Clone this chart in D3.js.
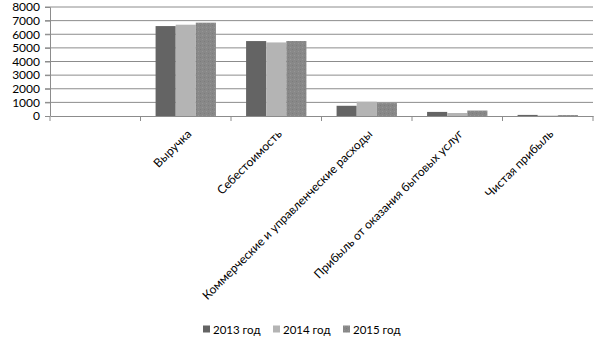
<!DOCTYPE html>
<html>
<head>
<meta charset="utf-8">
<script src="https://cdn.jsdelivr.net/npm/d3@7"></script>
<style>
  body { margin: 0; background: #fff; }
  text { font-family: Lato, "Liberation Sans", sans-serif; fill: #000; }
</style>
</head>
<body>
<div id="wrapper"></div>
<script>
// data
const categories = ["", "Выручка", "Себестоимость", "Коммерческие и управленческие расходы",
  "Прибыль от оказания бытовых услуг", "Чистая прибыль"];
const seriesNames = ["2013 год", "2014 год", "2015 год"];
const values2013 = [null, 6600, 5500, 750, 300, 80];
const values2014 = [null, 6700, 5400, 1050, 220, 30];
const values2015 = [null, 6850, 5500, 950, 400, 70];
const yTicks = [0, 1000, 2000, 3000, 4000, 5000, 6000, 7000, 8000];

const allSeries = [values2013, values2014, values2015];
const colors = ["#646464", "#b4b4b4", "url(#dots)"];

let dimensions = {
  width: 605,
  height: 340,
  margin: { top: 7, right: 12, bottom: 224, left: 50 }
}
dimensions.boundedWidth = dimensions.width - dimensions.margin.left - dimensions.margin.right
dimensions.boundedHeight = dimensions.height - dimensions.margin.top - dimensions.margin.bottom

const wrapper = d3.select("#wrapper").append("svg")
  .attr("width", dimensions.width)
  .attr("height", dimensions.height);

// dotted fill for 2015
const pat = wrapper.append("defs").append("pattern")
  .attr("id", "dots").attr("patternUnits", "userSpaceOnUse")
  .attr("width", 4).attr("height", 4);
pat.append("rect").attr("width", 4).attr("height", 4).attr("fill", "#888888");
pat.append("rect").attr("x", 0).attr("y", 0).attr("width", 1).attr("height", 1).attr("fill", "#969696");
pat.append("rect").attr("x", 2).attr("y", 2).attr("width", 1).attr("height", 1).attr("fill", "#7c7c7c");

const bounds = wrapper.append("g")
  .attr("transform", `translate(${dimensions.margin.left},${dimensions.margin.top})`);

const yScale = d3.scaleLinear()
  .domain([0, 8000])
  .range([dimensions.boundedHeight, 0]);

const xScale = d3.scaleBand()
  .domain(d3.range(categories.length))
  .range([0, dimensions.boundedWidth])
  .paddingInner(0).paddingOuter(0);

const inner = d3.scaleBand()
  .domain(d3.range(allSeries.length))
  .range([0, xScale.bandwidth()])
  .paddingOuter(0.75).paddingInner(0);

// gridlines
bounds.append("g")
  .selectAll("line")
  .data(yTicks.filter(d => d > 0))
  .join("line")
  .attr("x1", -5).attr("x2", dimensions.boundedWidth)
  .attr("y1", d => yScale(d)).attr("y2", d => yScale(d))
  .attr("stroke", "#8c8c8c").attr("stroke-width", 1);

// bars
allSeries.forEach((vals, si) => {
  bounds.append("g")
    .selectAll("rect")
    .data(vals.map((v, i) => ({ v, i })).filter(d => d.v != null))
    .join("rect")
    .attr("x", d => xScale(d.i) + inner(si))
    .attr("width", inner.bandwidth())
    .attr("y", d => yScale(d.v))
    .attr("height", d => dimensions.boundedHeight - yScale(d.v))
    .attr("fill", colors[si]);
});

// y axis
const yAxis = bounds.append("g")
  .call(d3.axisLeft(yScale).tickValues(yTicks).tickSize(5).tickPadding(5).tickFormat(d3.format("d")));
yAxis.selectAll("line, path").attr("stroke", "#8c8c8c");
yAxis.select(".domain").attr("d", `M-5,0.5H0.5V${dimensions.boundedHeight}`);
yAxis.selectAll("text").style("font-size", "12px").attr("fill", "#000");

// x axis
const xAxis = bounds.append("g")
  .attr("transform", `translate(0,${dimensions.boundedHeight})`)
  .call(d3.axisBottom(xScale).tickSize(0).tickFormat(i => categories[i]));
xAxis.select(".domain").attr("stroke", "#8c8c8c");
xAxis.selectAll("text")
  .style("font-size", "12px")
  .attr("text-anchor", "end")
  .attr("transform", "translate(0,9) rotate(-45)")
  .attr("dy", "0.7em").attr("dx", "-0.2em");

// category boundary ticks
bounds.append("g")
  .selectAll("line")
  .data(d3.range(categories.length + 1))
  .join("line")
  .attr("x1", i => i < categories.length ? xScale(i) : dimensions.boundedWidth)
  .attr("x2", i => i < categories.length ? xScale(i) : dimensions.boundedWidth)
  .attr("y1", dimensions.boundedHeight)
  .attr("y2", dimensions.boundedHeight + 5)
  .attr("stroke", "#8c8c8c");

// legend
const legendX = [203, 273, 343];
const legend = wrapper.append("g").attr("transform", "translate(0,330)");
seriesNames.forEach((name, i) => {
  legend.append("rect")
    .attr("x", legendX[i]).attr("y", -4.5)
    .attr("width", 7).attr("height", 7)
    .attr("fill", colors[i]);
  legend.append("text")
    .attr("x", legendX[i] + 10).attr("y", 0)
    .attr("dy", "0.35em")
    .style("font-size", "11.5px")
    .text(name);
});
</script>
</body>
</html>
